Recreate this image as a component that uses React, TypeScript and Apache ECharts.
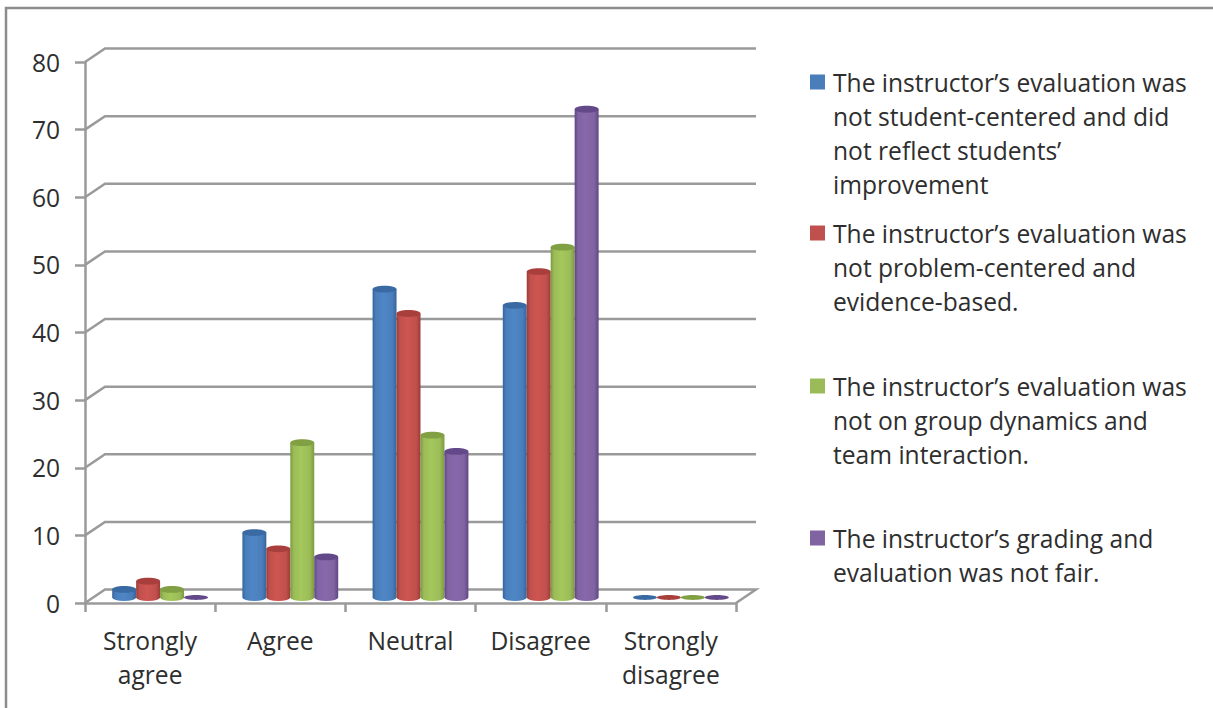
import React, { useEffect, useRef } from "react";
import * as echarts from "echarts";

const categories = ["Strongly\nagree", "Agree", "Neutral", "Disagree", "Strongly\ndisagree"];
const seriesNames = [
  "The instructor’s evaluation was\nnot student-centered and did\nnot reflect students’\nimprovement",
  "The instructor’s evaluation was\nnot problem-centered and\nevidence-based.",
  "The instructor’s evaluation was\nnot on group dynamics and\nteam interaction.",
  "The instructor’s grading and\nevaluation was not fair.",
];
const studentCentered = [1.2, 9.6, 45.6, 43.2, 0];
const problemCentered = [2.4, 7.2, 42, 48.2, 0];
const groupDynamics = [1.2, 22.9, 24, 51.8, 0];
const gradingFair = [0, 6, 21.6, 72.2, 0];
const yTicks = [0, 10, 20, 30, 40, 50, 60, 70, 80];

const seriesValues = [studentCentered, problemCentered, groupDynamics, gradingFair];
const body = ["#4A7EBB", "#C0504D", "#9BBB59", "#8064A2"];
const light = ["#4F86C6", "#CF5551", "#A4C85B", "#8868AC"];
const dark = ["#37659C", "#9C3B38", "#7A9A3E", "#5F4682"];
const topCol = ["#3A6AA3", "#A83F3C", "#81A043", "#64498A"];
const legendTops = [65, 216, 369, 521];
const legendLines = [4, 3, 3, 2];

const FONT = "'Open Sans', Lato, sans-serif";
const TEXT = "#2e2e2e";
const LINE = "#9a9a9a";
const DX = 20;
const DY = -13.5;
const LH = 34;
const FS = 24.6;

const renderWall = (params: any, api: any) => {
  const v = api.value(1);
  const c = api.coord([0, v]);
  const band = api.size([1, 0])[0];
  const x0 = c[0] - band / 2;
  const x1 = x0 + band * categories.length;
  const pts = [
    [x0, c[1]],
    [x0 + DX, c[1] + DY],
    [x1 + DX, c[1] + DY],
  ];
  if (v === 0) pts.push([x1, c[1]]);
  return {
    type: "polyline",
    shape: { points: pts },
    style: { stroke: LINE, lineWidth: 2.5, fill: "none" },
  };
};

const makeCylinder = (si: number) => (params: any, api: any) => {
  const cat = api.value(0);
  const c = api.coord([cat, api.value(1)]);
  const base = api.coord([cat, 0]);
  const band = api.size([1, 0])[0];
  const w = band * 0.184;
  const cx = c[0] + (si - 1.5) * w + DX / 2;
  const lift = -5.5;
  const yTop = c[1] + lift;
  const yBase = base[1] + lift;
  const rx = w / 2;
  const flat = yBase - yTop <= 0.5;
  const ry = flat ? 2.4 : 3.4;
  const x0 = cx - rx;
  const x1 = cx + rx;
  const children: any[] = [];
  if (!flat) {
    children.push({
      type: "path",
      shape: {
        pathData: `M${x0} ${yTop}L${x0} ${yBase}A${rx} ${ry} 0 0 0 ${x1} ${yBase}L${x1} ${yTop}Z`,
        layout: "cover",
        x: x0,
        y: yTop,
        width: x1 - x0,
        height: yBase - yTop + ry,
      },
      style: {
        fill: {
          type: "linear",
          x: 0,
          y: 0,
          x2: 1,
          y2: 0,
          colorStops: [
            { offset: 0, color: dark[si] },
            { offset: 0.14, color: body[si] },
            { offset: 0.45, color: light[si] },
            { offset: 0.82, color: body[si] },
            { offset: 1, color: dark[si] },
          ],
        },
      },
    });
  }
  children.push({
    type: "ellipse",
    shape: { cx, cy: yTop, rx, ry },
    style: { fill: topCol[si] },
  });
  return { type: "group", children };
};

export default function App() {
  const ref = useRef<HTMLDivElement>(null);
  useEffect(() => {
    document.body.style.margin = "0";
    const chart = echarts.init(ref.current!, undefined, { renderer: "svg" });
    chart.setOption({
      animation: false,
      backgroundColor: "#ffffff",
      grid: { left: 85, top: 62, width: 651, height: 541 },
      xAxis: {
        type: "category",
        data: categories,
        axisLine: { lineStyle: { color: LINE, width: 2.5 } },
        axisTick: { show: true, alignWithLabel: false, length: 9, lineStyle: { color: LINE, width: 2.5 } },
        axisLabel: { color: TEXT, fontFamily: FONT, fontSize: FS, lineHeight: LH, margin: 20, interval: 0 },
      },
      yAxis: {
        type: "value",
        min: 0,
        max: 80,
        interval: 10,
        splitLine: { show: false },
        axisLine: { show: true, lineStyle: { color: LINE, width: 2.5 } },
        axisTick: { show: true, length: 10, lineStyle: { color: LINE, width: 2.5 } },
        axisLabel: { color: TEXT, fontFamily: FONT, fontSize: FS, margin: 25 },
      },
      legend: seriesNames.map((name, i) => ({
        data: [name],
        left: 810,
        top: legendTops[i],
        orient: "vertical",
        itemWidth: 18,
        itemHeight: LH * legendLines[i],
        symbolKeepAspect: false,
        itemGap: 0,
        selectedMode: false,
        icon: `path://M0 0h0.01v0.01h-0.01Z M0 9.5H15V24.5H0Z M18 ${LH * legendLines[i]}h0.01v0.01h-0.01Z`,
        padding: 0,
        textStyle: {
          color: TEXT,
          fontFamily: FONT,
          fontSize: FS,
          lineHeight: LH,
        },
      })),
      graphic: [
        {
          type: "polyline",
          silent: true,
          shape: { points: [[6, 708], [6, 8], [1213, 8]] },
          style: { stroke: "#8c8c8c", lineWidth: 2.5, fill: "none" },
        },
      ],
      series: [
        {
          type: "custom",
          name: "wall",
          clip: false,
          z: 1,
          silent: true,
          encode: { x: 0, y: 1 },
          data: yTicks.map((t) => [0, t]),
          renderItem: renderWall,
        },
        ...seriesNames.map((name, si) => ({
          type: "custom",
          name,
          clip: false,
          z: 2 + si,
          itemStyle: { color: body[si] },
          encode: { x: 0, y: 1 },
          data: seriesValues[si].map((v, c) => [c, v]),
          renderItem: makeCylinder(si),
        })),
      ],
    });
    return () => chart.dispose();
  }, []);
  return <div ref={ref} style={{ width: 1213, height: 708 }} />;
}
